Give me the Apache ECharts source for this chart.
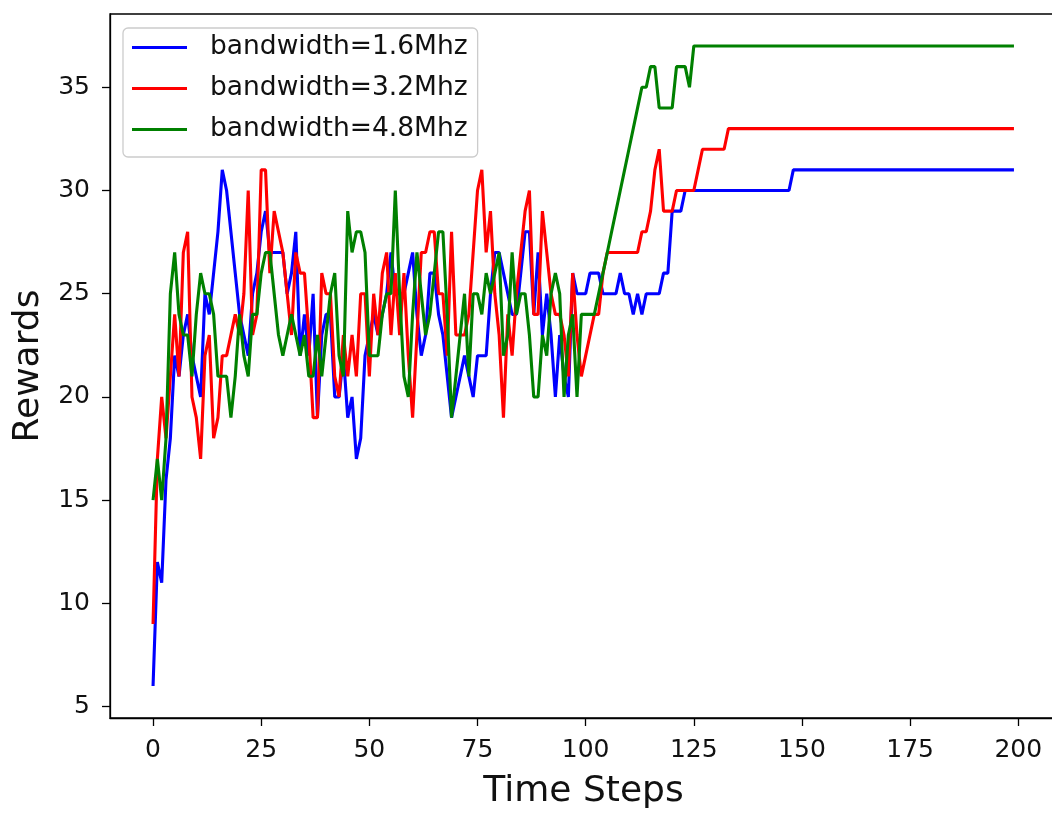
<!DOCTYPE html>
<html>
<head>
<meta charset="utf-8">
<script src="https://cdn.jsdelivr.net/npm/echarts@6/dist/echarts.min.js"></script>
<style>
html,body{margin:0;padding:0;background:#fff;overflow:hidden;}
#chart{width:1060px;height:815px;}
</style>
</head>
<body>
<div id="chart"></div>
<script>
const seriesNames = ['bandwidth=1.6Mhz', 'bandwidth=3.2Mhz', 'bandwidth=4.8Mhz'];
const xTicks = [0, 25, 50, 75, 100, 125, 150, 175, 200];
const yTicks = [5, 10, 15, 20, 25, 30, 35];

const blue = [
  6,12,11,16,18,22,21,23,24,22,
  21,20,25,24,26,28,31,30,28,26,
  24,23,22,25,26,28,29,27,27,27,
  27,25,26,28,22,24,22,25,19,23,
  24,24,20,20,22,19,20,17,18,22,
  23,24,23,24,25,27,25,25,25,26,
  27,24,22,23,26,26,24,23,21,19,
  20,21,22,21,20,22,22,22,25,27,
  27,26,25,24,24,26,28,28,24,27,
  23,25,23,20,23,21,20,26,25,25,
  25,26,26,26,25,25,25,25,26,25,
  25,24,25,24,25,25,25,25,26,26,
  29,29,29,30,30,30,30,30,30,30,
  30,30,30,30,30,30,30,30,30,30,
  30,30,30,30,30,30,30,30,31,31,
  31,31,31,31,31,31,31,31,31,31,
  31,31,31,31,31,31,31,31,31,31,
  31,31,31,31,31,31,31,31,31,31,
  31,31,31,31,31,31,31,31,31,31,
  31,31,31,31,31,31,31,31,31,31
];
const red = [
  9,17,20,18,21,24,21,27,28,20,
  19,17,22,23,18,19,22,22,23,24,
  23,25,30,23,24,31,31,26,29,28,
  27,25,23,27,26,26,23,19,19,26,
  25,25,21,20,23,21,23,21,25,25,
  21,25,23,26,27,23,26,23,26,22,
  19,23,27,27,28,28,25,25,22,28,
  23,23,23,24,27,30,31,27,29,25,
  23,19,24,22,25,27,29,30,24,24,
  29,27,25,24,24,23,21,26,23,21,
  22,23,24,24,26,27,27,27,27,27,
  27,27,27,28,28,29,31,32,29,29,
  29,30,30,30,30,30,31,32,32,32,
  32,32,32,33,33,33,33,33,33,33,
  33,33,33,33,33,33,33,33,33,33,
  33,33,33,33,33,33,33,33,33,33,
  33,33,33,33,33,33,33,33,33,33,
  33,33,33,33,33,33,33,33,33,33,
  33,33,33,33,33,33,33,33,33,33,
  33,33,33,33,33,33,33,33,33,33
];
const green = [
  15,17,15,18,25,27,24,23,23,21,
  24,26,25,25,24,21,21,21,19,21,
  24,22,21,24,24,26,27,27,25,23,
  22,23,24,23,22,23,21,21,23,21,
  23,25,26,22,21,29,27,28,28,27,
  22,22,22,24,25,25,30,25,21,20,
  24,27,25,23,24,26,28,28,24,19,
  21,23,25,21,25,25,24,26,25,26,
  27,22,23,27,24,25,25,23,20,20,
  23,22,25,26,25,20,23,24,20,24,
  24,24,24,25,26,27,28,29,30,31,
  32,33,34,35,35,36,36,34,34,34,
  34,36,36,36,35,37,37,37,37,37,
  37,37,37,37,37,37,37,37,37,37,
  37,37,37,37,37,37,37,37,37,37,
  37,37,37,37,37,37,37,37,37,37,
  37,37,37,37,37,37,37,37,37,37,
  37,37,37,37,37,37,37,37,37,37,
  37,37,37,37,37,37,37,37,37,37,
  37,37,37,37,37,37,37,37,37,37
];

const colors = ['#0000ff', '#ff0000', '#008000'];
const values = [blue, red, green];

const FONT = '"DejaVu Sans", sans-serif';
const chart = echarts.init(document.getElementById('chart'), null, {renderer: 'canvas'});

const option = {
  animation: false,
  backgroundColor: '#ffffff',
  grid: {
    left: 110, top: 14, right: 3, bottom: 96,
    show: true, borderColor: '#000', borderWidth: 1.3, backgroundColor: '#fff'
  },
  legend: {
    orient: 'vertical',
    left: 123, top: 28,
    data: seriesNames,
    icon: 'rect',
    itemWidth: 55, itemHeight: 3,
    itemGap: 14,
    padding: [6, 10, 14, 9],
    backgroundColor: '#ffffff',
    borderColor: '#cccccc',
    borderWidth: 1.3,
    borderRadius: 5,
    textStyle: {fontFamily: FONT, fontSize: 26.5, color: '#111', lineHeight: 26, padding: [0, 0, 0, 18]}
  },
  xAxis: {
    type: 'value',
    min: -9.95, max: 208.95,
    name: 'Time Steps',
    nameLocation: 'middle',
    nameGap: 56,
    nameTextStyle: {fontFamily: FONT, fontSize: 36, color: '#111'},
    axisLine: {onZero: false, lineStyle: {color: '#000', width: 1.3}},
    axisTick: {show: true, length: 8, lineStyle: {color: '#000', width: 1.3}, customValues: xTicks},
    axisLabel: {fontFamily: FONT, fontSize: 25, color: '#111', margin: 20, customValues: xTicks},
    splitLine: {show: false}
  },
  yAxis: {
    type: 'value',
    min: 4.45, max: 38.55,
    name: 'Rewards',
    nameLocation: 'middle',
    nameGap: 63,
    nameTextStyle: {fontFamily: FONT, fontSize: 36, color: '#111'},
    axisLine: {show: true, onZero: false, lineStyle: {color: '#000', width: 1.3}},
    axisTick: {show: true, length: 8, lineStyle: {color: '#000', width: 1.3}, customValues: yTicks},
    axisLabel: {fontFamily: FONT, fontSize: 25, color: '#111', margin: 20, customValues: yTicks},
    splitLine: {show: false}
  },
  series: values.map((vals, k) => ({
    name: seriesNames[k],
    type: 'line',
    data: vals.map((v, i) => [i, v]),
    showSymbol: false,
    symbol: 'none',
    lineStyle: {color: colors[k], width: 3.1},
    itemStyle: {color: colors[k]},
    emphasis: {disabled: true}
  }))
};
chart.setOption(option);
</script>
</body>
</html>
